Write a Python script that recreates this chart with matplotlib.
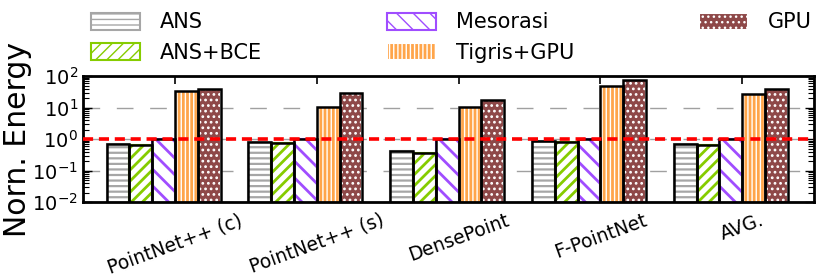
import numpy as np
import matplotlib
matplotlib.use("Agg")
import matplotlib.pyplot as plt

# valeurs (energie normalisee, echelle log)
groupes = ["PointNet++ (c)", "PointNet++ (s)", "DensePoint", "F-PointNet", "AVG."]
ans = [0.70, 0.79, 0.42, 0.85, 0.70]
ans_bce = [0.67, 0.75, 0.36, 0.81, 0.65]
mesorasi = [1.0, 1.0, 1.0, 1.0, 1.0]
tigris_gpu = [34, 10.8, 10.8, 50, 28]
gpu = [39, 28.5, 17.5, 73, 38.5]

noms = ["ANS", "ANS+BCE", "Mesorasi", "Tigris+GPU", "GPU"]
series = [ans, ans_bce, mesorasi, tigris_gpu, gpu]
# (couleur de fond, couleur des hachures, motif, epaisseur hachures)
styles = [
    ("white", "#a6a6a6", "---", 1.6),
    ("white", "#86cc00", "///", 2.0),
    ("white", "#a04dff", "\\\\", 2.0),
    ("#ffa54a", "white", "||||", 1.0),
    ("#8e4848", "white", "...", 1.2),
]

fig = plt.figure(figsize=(8.3, 2.77), dpi=100)
ax = fig.add_axes([0.1, 0.27, 0.881, 0.455])
ax.set_yscale("log")

x = np.arange(len(groupes))
w = 0.161
handles = []
for k, (vals, nom, (fc, hc, motif, hlw)) in enumerate(zip(series, noms, styles)):
    pos = x + (k - 2.5) * w
    with plt.rc_context({"hatch.linewidth": hlw}):
        b = ax.bar(pos, vals, w, facecolor=fc, edgecolor=hc, hatch=motif,
                   linewidth=1.5, label=nom, zorder=2)
    ax.bar(pos, vals, w, fill=False, edgecolor="black", linewidth=1.8, zorder=3)
    handles.append(b)

ax.axhline(1.0, color="red", lw=2.6, dashes=(2.8, 1.6), zorder=4)

ax.set_ylim(1e-2, 1e2)
ax.set_xlim(-0.649, 4.508)
ax.yaxis.grid(True, which="major", color="#a0a0a0", lw=1.0, dashes=(12, 12), zorder=0)
ax.set_axisbelow(True)

ax.set_xticks(x)
ax.set_xticklabels(groupes, rotation=20, ha="center", va="top", fontsize=13.5)
ax.tick_params(axis="x", which="both", direction="in", top=True, bottom=True,
               length=6, width=1.2, pad=6)
ax.tick_params(axis="y", which="major", direction="in", left=True, right=True,
               length=6.5, width=1.0, labelsize=14)
ax.tick_params(axis="y", which="minor", direction="in", left=True, right=True,
               length=4.3, width=0.8)
ax.yaxis.set_major_locator(matplotlib.ticker.LogLocator(base=10, numticks=10))
ax.yaxis.set_minor_locator(matplotlib.ticker.LogLocator(base=10, subs=np.arange(2, 10), numticks=10))
for s in ax.spines.values():
    s.set_linewidth(2.0)

ax.set_ylabel("Norn. Energy", fontsize=21.5)
ax.yaxis.set_label_coords(-0.07, 0.5)

fig.legend(handles=handles, loc="upper left", bbox_to_anchor=(0.10, 0.985),
           ncol=3, frameon=False, fontsize=15, handlelength=2.35,
           handleheight=0.9, handletextpad=0.95, columnspacing=6.0,
           labelspacing=0.5, borderaxespad=0.0)

fig.savefig("out.png", dpi=100)
